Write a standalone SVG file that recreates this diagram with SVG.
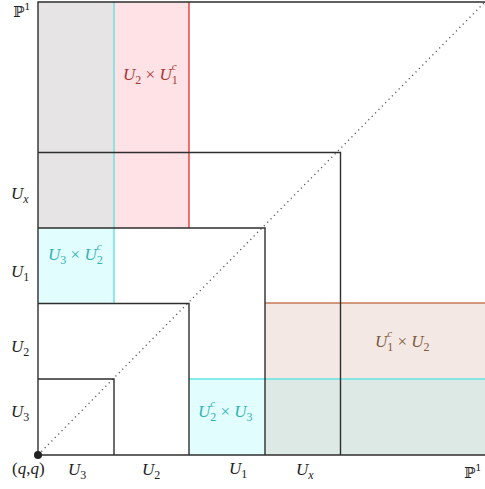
<svg xmlns="http://www.w3.org/2000/svg" width="485" height="489" viewBox="0 0 485 489">
<style>
.sq{fill:none;stroke:#2e2e2e;stroke-width:1.4}
.m{font-family:"Liberation Serif","DejaVu Serif",serif;font-style:italic;font-size:17px;fill:#222}
.n{font-style:normal;font-size:12px}
.ni{font-style:italic;font-size:12px}
.sp{font-style:italic;font-size:11px}
.up{font-style:normal}
.bb{font-family:"DejaVu Serif","DejaVu Sans",serif;font-size:15px;fill:#222}
.red{fill:#a83434}
.cy{fill:#2fb3b3}
.br{fill:#7d5a3c}
</style>
<rect width="485" height="489" fill="#fff"/>
<g id="regions">
<rect id="gray" x="38" y="2" width="76" height="226" fill="#e6e4e5"/>
<rect id="U2xU1c" x="114" y="2" width="75" height="226" fill="#ffe2e5"/>
<rect id="U3xU2c" x="38" y="228" width="76" height="75" fill="#e2fdfd"/>
<rect id="U1cxU2" x="265" y="303" width="220" height="76" fill="#f4e8e4"/>
<rect id="overlap" x="265" y="379" width="220" height="76" fill="#dde9e5"/>
<rect id="U2cxU3" x="189" y="379" width="76" height="76" fill="#e2fdfd"/>
</g>
<g id="connectors">
<line x1="189" y1="2" x2="189" y2="228" stroke="#e83a3a" stroke-width="1.4"/>
<line x1="114" y1="2" x2="114" y2="303" stroke="#62e3e3" stroke-width="1.4"/>
<line x1="265" y1="303" x2="485" y2="303" stroke="#c57a55" stroke-width="1.4"/>
<line x1="189" y1="379" x2="485" y2="379" stroke="#62e3e3" stroke-width="1.4"/>
<line x1="38" y1="455" x2="484" y2="3" stroke="#555" stroke-width="1.3" stroke-dasharray="1.2 3.6"/>
</g>
<g id="squares">
<path id="sqP1" class="sq" d="M38 455V2H485"/>
<path id="sqUx" class="sq" d="M38 152.5H340.5V455"/>
<path id="sqU1" class="sq" d="M38 228H265V455"/>
<path id="sqU2" class="sq" d="M38 303.5H189V455"/>
<path id="sqU3" class="sq" d="M38 379H114V455"/>
<line class="sq" x1="38" y1="455" x2="485" y2="455"/>
</g>
<circle id="origin" cx="38" cy="455" r="4" fill="#222"/>
<g id="labels">
<text class="bb" x="13" y="17">ℙ<tspan font-size="10" dy="-7">1</tspan></text>
<text class="m" x="11" y="199">U<tspan class="ni" dy="4">x</tspan></text>
<text class="m" x="11" y="277">U<tspan class="n" dy="4">1</tspan></text>
<text class="m" x="11" y="352">U<tspan class="n" dy="4">2</tspan></text>
<text class="m" x="11" y="417">U<tspan class="n" dy="4">3</tspan></text>
<text class="m" x="12" y="474"><tspan class="up">(</tspan>q<tspan class="up">,</tspan>q<tspan class="up">)</tspan></text>
<text class="m" x="68" y="475">U<tspan class="n" dy="4">3</tspan></text>
<text class="m" x="142" y="475">U<tspan class="n" dy="4">2</tspan></text>
<text class="m" x="229" y="474">U<tspan class="n" dy="4">1</tspan></text>
<text class="m" x="296" y="475">U<tspan class="ni" dy="4">x</tspan></text>
<text class="bb" x="464" y="478">ℙ<tspan font-size="10" dy="-7">1</tspan></text>
<text class="m red" x="123" y="80">U<tspan class="n" dy="4">2</tspan><tspan class="up" dy="-4"> × </tspan>U<tspan class="n" dy="4">1</tspan><tspan class="sp" dx="-6" dy="-14">c</tspan></text>
<text class="m cy" x="48" y="260">U<tspan class="n" dy="4">3</tspan><tspan class="up" dy="-4"> × </tspan>U<tspan class="n" dy="4">2</tspan><tspan class="sp" dx="-6" dy="-14">c</tspan></text>
<text class="m cy" x="198" y="417">U<tspan class="n" dy="4">2</tspan><tspan class="sp" dx="-6" dy="-14">c</tspan><tspan class="up" dx="1" dy="10"> × </tspan>U<tspan class="n" dy="4">3</tspan></text>
<text class="m br" x="375" y="347">U<tspan class="n" dy="4">1</tspan><tspan class="sp" dx="-6" dy="-14">c</tspan><tspan class="up" dx="1" dy="10"> × </tspan>U<tspan class="n" dy="4">2</tspan></text>
</g>
</svg>
